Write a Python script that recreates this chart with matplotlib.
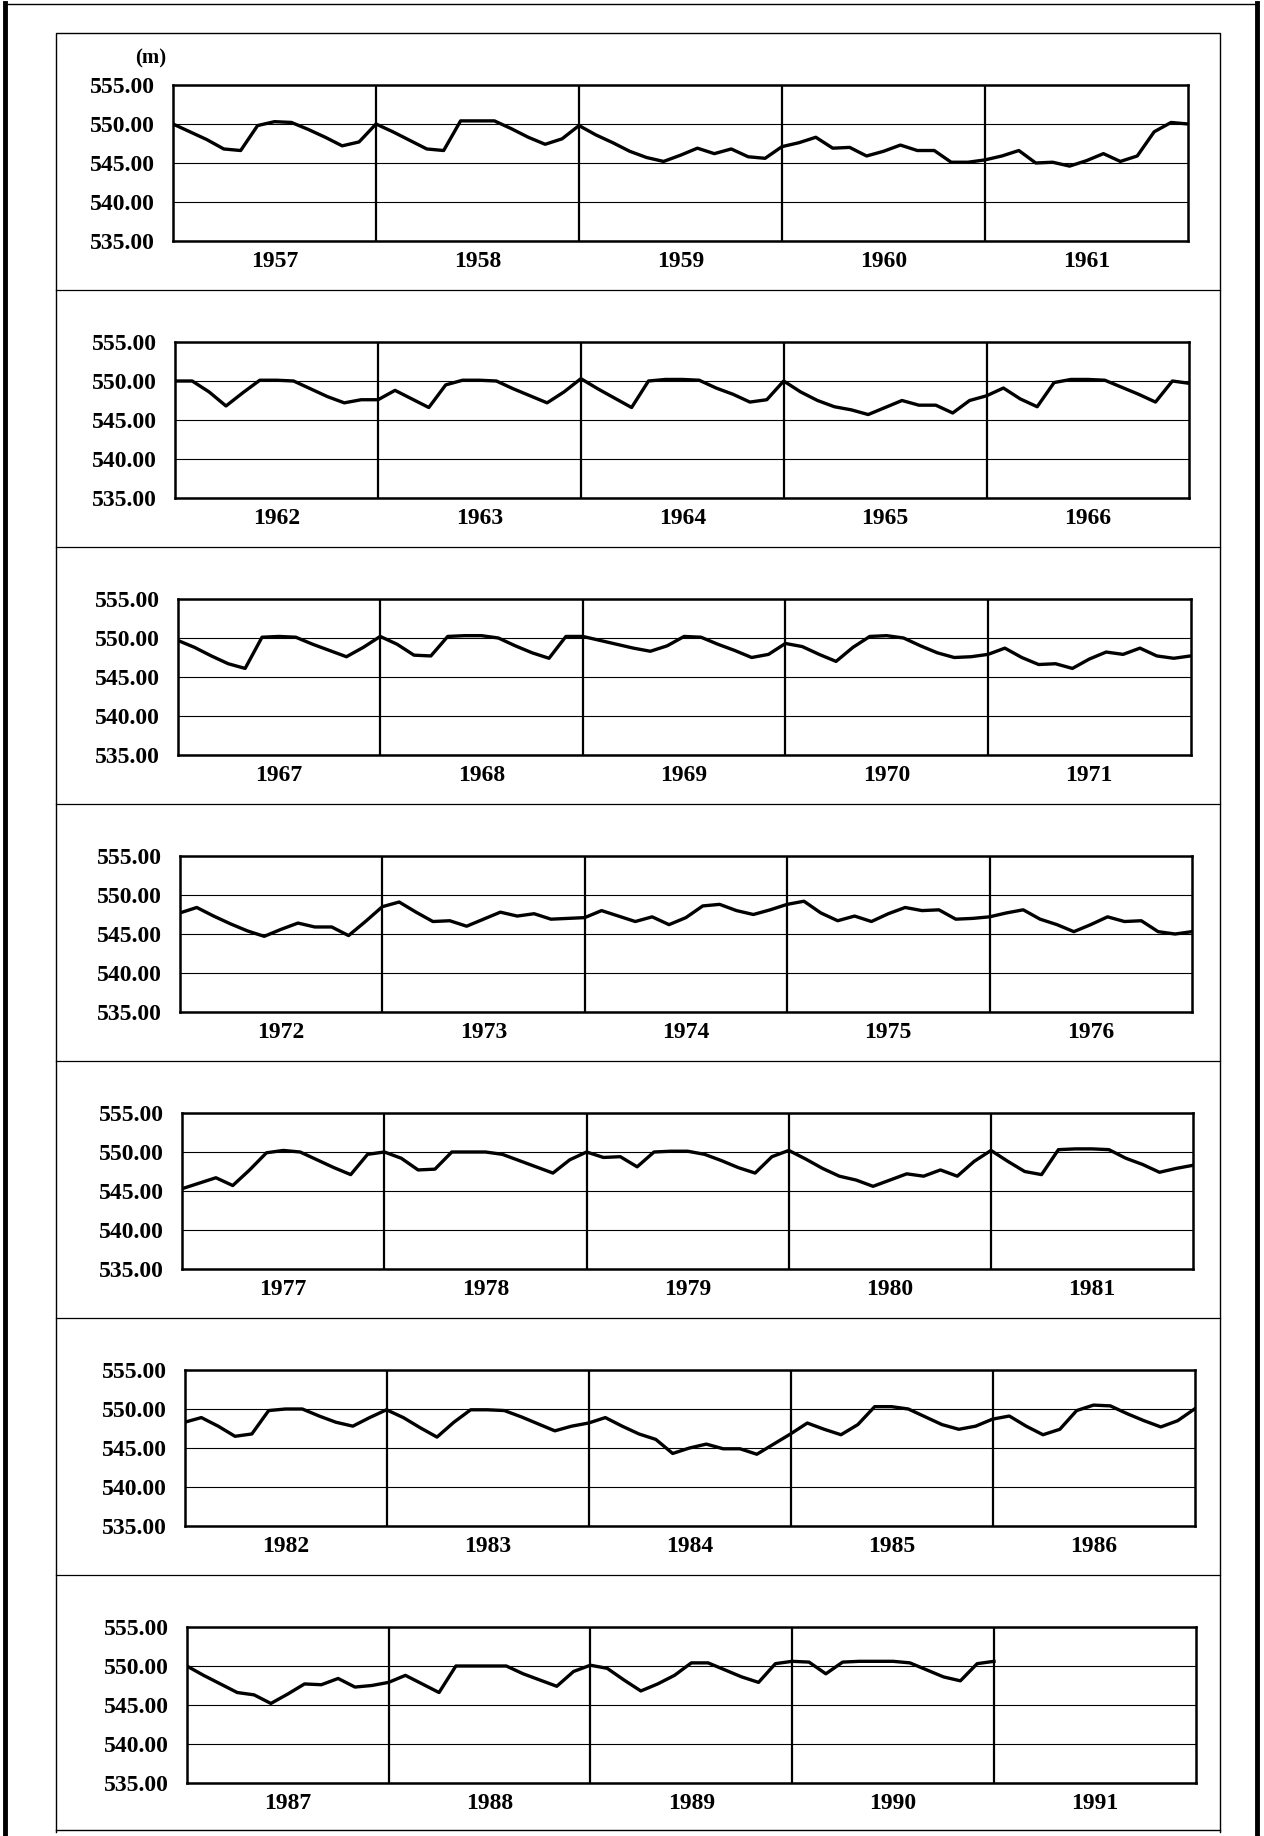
import numpy as np
import matplotlib
matplotlib.use("Agg")
import matplotlib.pyplot as plt

plt.rcParams['font.family'] = ['Liberation Serif', 'DejaVu Serif']

# monthly reservoir level (m), one value per month, Jan..Dec
level_1957_1961 = [
    550.0, 549.0, 548.0, 546.8, 546.6, 549.8, 550.3, 550.2, 549.3, 548.3, 547.2, 547.7,
    550.0, 549.0, 547.9, 546.8, 546.6, 550.4, 550.4, 550.4, 549.4, 548.3, 547.4, 548.1,
    549.8, 548.6, 547.6, 546.5, 545.7, 545.2, 546.0, 546.9, 546.2, 546.8, 545.8, 545.6,
    547.1, 547.6, 548.3, 546.9, 547.0, 545.9, 546.5, 547.3, 546.6, 546.6, 545.1, 545.1,
    545.4, 545.9, 546.6, 545.0, 545.1, 544.6, 545.3, 546.2, 545.2, 545.9, 549.0, 550.2,
]
level_1962_1966 = [
    550.0, 550.0, 548.6, 546.8, 548.5, 550.1, 550.1, 550.0, 549.0, 548.0, 547.2, 547.6,
    547.6, 548.8, 547.7, 546.6, 549.5, 550.1, 550.1, 550.0, 549.0, 548.1, 547.2, 548.6,
    550.3, 549.0, 547.8, 546.6, 550.0, 550.2, 550.2, 550.1, 549.1, 548.3, 547.3, 547.6,
    550.0, 548.6, 547.5, 546.7, 546.3, 545.7, 546.6, 547.5, 546.9, 546.9, 545.9, 547.5,
    548.1, 549.1, 547.7, 546.7, 549.8, 550.2, 550.2, 550.1, 549.2, 548.3, 547.3, 550.0,
]
level_1967_1971 = [
    549.7, 548.8, 547.7, 546.7, 546.1, 550.1, 550.2, 550.1, 549.2, 548.4, 547.6, 548.8,
    550.2, 549.2, 547.8, 547.7, 550.2, 550.3, 550.3, 550.0, 549.0, 548.1, 547.4, 550.2,
    550.2, 549.7, 549.2, 548.7, 548.3, 549.0, 550.2, 550.1, 549.2, 548.4, 547.5, 547.9,
    549.3, 548.9, 547.9, 547.0, 548.8, 550.2, 550.3, 550.0, 549.0, 548.1, 547.5, 547.6,
    547.9, 548.7, 547.5, 546.6, 546.7, 546.1, 547.3, 548.2, 547.9, 548.7, 547.7, 547.4,
]
level_1972_1976 = [
    547.7, 548.4, 547.3, 546.3, 545.4, 544.7, 545.6, 546.4, 545.9, 545.9, 544.8, 546.6,
    548.5, 549.1, 547.8, 546.6, 546.7, 546.0, 546.9, 547.8, 547.3, 547.6, 546.9, 547.0,
    547.1, 548.0, 547.3, 546.6, 547.2, 546.2, 547.1, 548.6, 548.8, 548.0, 547.5, 548.1,
    548.8, 549.2, 547.7, 546.7, 547.3, 546.6, 547.6, 548.4, 548.0, 548.1, 546.9, 547.0,
    547.2, 547.7, 548.1, 546.9, 546.2, 545.3, 546.2, 547.2, 546.6, 546.7, 545.3, 545.0,
]
level_1977_1981 = [
    545.3, 546.0, 546.7, 545.7, 547.7, 549.9, 550.2, 550.0, 549.0, 548.0, 547.1, 549.7,
    550.0, 549.2, 547.7, 547.8, 550.0, 550.0, 550.0, 549.7, 548.9, 548.1, 547.3, 549.0,
    550.0, 549.3, 549.4, 548.1, 550.0, 550.1, 550.1, 549.7, 548.9, 548.0, 547.3, 549.4,
    550.2, 549.1, 547.9, 546.9, 546.4, 545.6, 546.4, 547.2, 546.9, 547.7, 546.9, 548.8,
    550.2, 548.8, 547.5, 547.1, 550.3, 550.4, 550.4, 550.3, 549.2, 548.4, 547.4, 547.9,
]
level_1982_1986 = [
    548.3, 548.9, 547.8, 546.5, 546.8, 549.8, 550.0, 550.0, 549.1, 548.3, 547.8, 548.9,
    549.9, 548.9, 547.6, 546.4, 548.3, 549.9, 549.9, 549.8, 549.0, 548.1, 547.2, 547.8,
    548.2, 548.9, 547.8, 546.8, 546.1, 544.3, 545.0, 545.5, 544.9, 544.9, 544.2, 545.5,
    546.8, 548.2, 547.4, 546.7, 548.0, 550.3, 550.3, 550.0, 549.0, 548.0, 547.4, 547.8,
    548.7, 549.1, 547.8, 546.7, 547.4, 549.8, 550.5, 550.4, 549.4, 548.5, 547.7, 548.5,
]
# 1987-1990 plus the level at the start of 1991
level_1987_1991 = [
    550.0, 548.8, 547.7, 546.6, 546.3, 545.2, 546.4, 547.7, 547.6, 548.4, 547.3, 547.5,
    547.9, 548.8, 547.7, 546.6, 550.0, 550.0, 550.0, 550.0, 549.0, 548.2, 547.4, 549.3,
    550.1, 549.7, 548.2, 546.8, 547.7, 548.8, 550.4, 550.4, 549.5, 548.6, 547.9, 550.3,
    550.6, 550.5, 549.0, 550.5, 550.6, 550.6, 550.6, 550.4, 549.5, 548.6, 548.1, 550.3,
    550.6,
]

panels = [level_1957_1961, level_1962_1966, level_1967_1971, level_1972_1976,
          level_1977_1981, level_1982_1986, level_1987_1991]
first_years = [1957, 1962, 1967, 1972, 1977, 1982, 1987]
y_ticks = [535, 540, 545, 550, 555]

W, H = 1264, 1836
fig = plt.figure(figsize=(W / 100, H / 100), dpi=100)

# page frame drawn in pixel coordinates
frame = fig.add_axes([0, 0, 1, 1])
frame.set_xlim(0, W)
frame.set_ylim(H, 0)
frame.axis('off')
frame.plot([5, 5], [3, H], color='k', lw=3.5)
frame.plot([1257, 1257], [3, H], color='k', lw=3.5)
frame.plot([5, 1257], [4, 4], color='k', lw=1.0)
frame.plot([56, 56, 1220, 1220], [1832, 33, 33, 1832], color='k', lw=1.0)
frame.plot([56, 1220], [1830, 1830], color='k', lw=1.0)
for i in range(6):
    frame.plot([56, 1220], [290 + 257 * i] * 2, color='k', lw=0.9)

fig.text(151 / W, 1 - 58 / H, '(m)', ha='center', va='center', fontsize=15, weight='bold')

for row, values in enumerate(panels):
    yv = list(values)
    if row + 1 < len(panels):
        yv.append(panels[row + 1][0])
    xv = np.arange(len(yv)) / 12.0

    left = 173 + 2.3 * row
    right = 1188 + 1.3 * row
    top = 85 + 257 * row
    ax = fig.add_axes([left / W, 1 - (top + 156) / H, (right - left) / W, 156 / H])
    ax.plot(xv, yv, color='k', lw=2.4, solid_joinstyle='round')
    ax.set_xlim(0, 5)
    ax.set_ylim(535, 555)

    ax.set_yticks(y_ticks)
    ax.set_yticklabels([f"{v:.2f}" for v in y_ticks])
    ax.yaxis.grid(True, color='k', lw=0.8)
    ax.set_axisbelow(True)
    for b in range(1, 5):
        ax.axvline(b, color='k', lw=1.6)

    ax.set_xticks(np.arange(5) + 0.5)
    ax.set_xticklabels([str(first_years[row] + k) for k in range(5)])
    ax.tick_params(axis='x', length=0, pad=7, labelsize=17)
    ax.tick_params(axis='y', length=0, pad=13, labelsize=17)
    for lab in ax.get_xticklabels() + ax.get_yticklabels():
        lab.set_fontweight('bold')
    for s in ax.spines.values():
        s.set_linewidth(1.8)

fig.savefig('out.png', dpi=100)
